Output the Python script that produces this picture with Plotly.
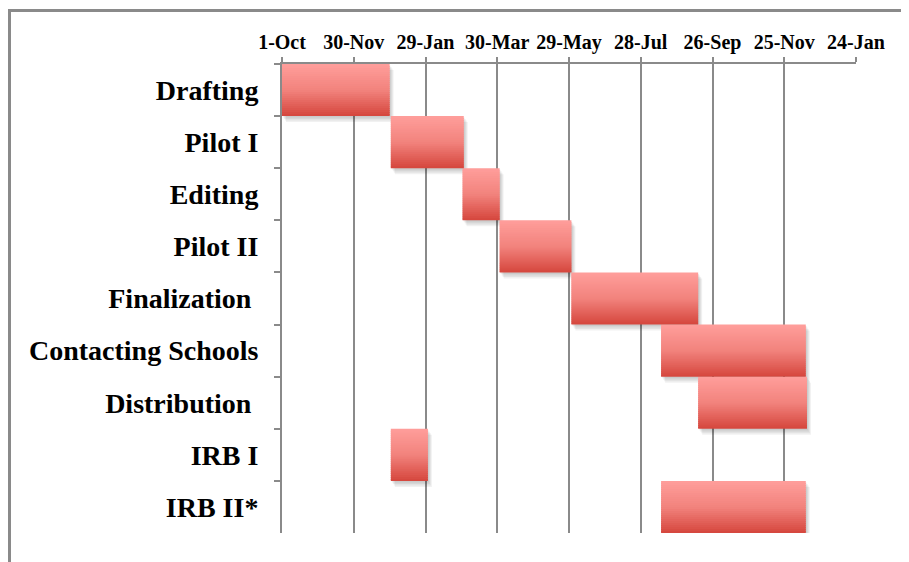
import plotly.graph_objects as go
import pandas as pd

# ---- data ----
tasks = ["Drafting", "Pilot I", "Editing", "Pilot II", "Finalization ",
         "Contacting Schools", "Distribution ", "IRB I", "IRB II*"]
start_dates = ["2010-10-01", "2010-12-31", "2011-03-01", "2011-04-01", "2011-05-31",
               "2011-08-14", "2011-09-14", "2010-12-31", "2011-08-14"]
end_dates = ["2010-12-30", "2011-03-02", "2011-04-01", "2011-05-31", "2011-09-14",
             "2011-12-13", "2011-12-14", "2011-01-31", "2011-12-13"]
tick_dates = ["2010-10-01", "2010-11-30", "2011-01-29", "2011-03-30", "2011-05-29",
              "2011-07-28", "2011-09-26", "2011-11-25", "2012-01-24"]
tick_labels = ["1-Oct", "30-Nov", "29-Jan", "30-Mar", "29-May",
               "28-Jul", "26-Sep", "25-Nov", "24-Jan"]

starts = pd.to_datetime(pd.Series(start_dates))
ends = pd.to_datetime(pd.Series(end_dates))
durations_ms = ((ends - starts).dt.total_seconds() * 1000).tolist()

# ---- layout geometry ----
W, H = 901, 554
ML, MR, MT, MB = 274, 53, 56, 29
plot_w = W - ML - MR
plot_h = H - MT - MB
span_days = (pd.Timestamp(tick_dates[-1]) - pd.Timestamp(tick_dates[0])).days
days_per_px = span_days / plot_w
row_px = plot_h / len(tasks)

# ---- gradient styling (top light pink -> bottom red) ----
stops = [(0.0, (255, 158, 155)), (0.5, (242, 131, 125)), (1.0, (213, 70, 61))]


def grad(t):
    for (t0, c0), (t1, c1) in zip(stops[:-1], stops[1:]):
        if t <= t1:
            f = (t - t0) / (t1 - t0)
            return "rgb(%d,%d,%d)" % tuple(round(a + (b - a) * f) for a, b in zip(c0, c1))
    return "rgb(%d,%d,%d)" % stops[-1][1]


fig = go.Figure()

# soft drop shadow (offset down/right, layered)
for dx, dy in [(1, 1.5), (2, 3), (3, 4.5), (4, 6)]:
    sh_base = (starts + pd.Timedelta(days=dx * days_per_px)).dt.strftime("%Y-%m-%d %H:%M:%S").tolist()
    fig.add_trace(go.Bar(
        y=tasks, x=durations_ms, base=sh_base, orientation="h",
        offset=-0.5 + dy / row_px, width=1,
        marker=dict(color="rgba(0,0,0,0.055)", line=dict(width=0)),
        hoverinfo="skip", showlegend=False,
    ))

N = 26
for i in range(N):
    off = i / N
    w = min(1.6 / N, 1 - off)
    fig.add_trace(go.Bar(
        y=tasks, x=durations_ms, base=start_dates, orientation="h",
        offset=-0.5 + off, width=w,
        marker=dict(color=grad((i + 0.5) / N), line=dict(width=0)),
        hoverinfo="skip", showlegend=False,
    ))

grey = "#8a8a8a"
fig.update_layout(
    width=W, height=H,
    margin=dict(l=ML, r=MR, t=MT, b=MB),
    paper_bgcolor="white", plot_bgcolor="white",
    barmode="overlay",
    font=dict(family="Liberation Serif", color="black"),
    xaxis=dict(
        type="date", side="top", range=[tick_dates[0], tick_dates[-1]],
        tickvals=tick_dates, ticktext=tick_labels,
        ticks="outside", ticklen=5, tickwidth=2, tickcolor=grey,
        showline=True, linewidth=2, linecolor=grey,
        showgrid=True, gridcolor=grey, gridwidth=2, zeroline=False,
        tickfont=dict(size=20, weight="bold", family="Liberation Serif", color="black"),
        ticklabelstandoff=0,
    ),
    yaxis=dict(
        type="category", categoryorder="array", categoryarray=tasks,
        range=[len(tasks) - 0.5, -0.5], tickson="boundaries",
        ticks="outside", ticklen=6, tickwidth=2, tickcolor=grey,
        showline=True, linewidth=2, linecolor=grey, showgrid=False,
        tickfont=dict(size=28, weight="bold", family="Liberation Serif", color="black"),
        ticklabelstandoff=16,
    ),
    shapes=[dict(type="rect", xref="paper", yref="paper",
                 x0=(1.5 - ML) / plot_w, x1=1.3, y0=-0.3, y1=1 + (MT - 2.5) / plot_h,
                 line=dict(color=grey, width=3), layer="below")],
)

fig.write_html("out.html")
